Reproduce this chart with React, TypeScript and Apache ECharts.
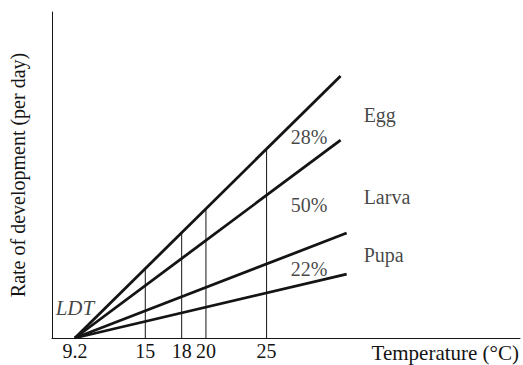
import React, { useEffect, useRef } from "react";
import * as echarts from "echarts";

// Temperatures (°C) shown on the x axis
const tickTemps = [9.2, 15, 18, 20, 25];
const ldt = 9.2;
// End points of the four development-rate lines (temperature, rate)
const eggEndTemp = 31.1;
const pupaEndTemp = 31.6;
const lineNames = ["Total", "Larva start", "Pupa start", "Pupa lower"];
const lineEndTemps = [eggEndTemp, eggEndTemp, pupaEndTemp, pupaEndTemp];
const lineEndRates = [0.804, 0.607, 0.322, 0.196];
// Temperatures with vertical guide lines
const guideTemps = [15, 18, 20, 25];
// Annotations (text, temperature, rate)
const stageNames = ["Egg", "Larva", "Pupa"];
const stageTemps = [33.0, 33.0, 33.0];
const stageRates = [0.684, 0.433, 0.255];
const shareLabels = ["28%", "50%", "22%"];
const shareTemps = [28.5, 28.5, 28.5];
const shareRates = [0.618, 0.408, 0.212];

const INK = "#141414";
const FONT = "Liberation Serif";

export default function App() {
  const ref = useRef<HTMLDivElement>(null);
  useEffect(() => {
    if (!ref.current) return;
    const chart = echarts.init(ref.current, undefined, { renderer: "svg" });
    const topRate = (t: number) => (lineEndRates[0] * (t - ldt)) / (lineEndTemps[0] - ldt);
    const series: any[] = [];
    lineNames.forEach((n, i) => {
      series.push({
        name: n,
        type: "line",
        data: [
          [ldt, 0],
          [lineEndTemps[i], lineEndRates[i]],
        ],
        symbol: "none",
        lineStyle: { color: INK, width: 2.8 },
        z: 3,
      });
    });
    guideTemps.forEach((t) => {
      series.push({
        type: "line",
        data: [
          [t, 0],
          [t, topRate(t)],
        ],
        symbol: "none",
        lineStyle: { color: INK, width: 1 },
        z: 2,
      });
    });
    series.push({
      type: "scatter",
      symbolSize: 0,
      data: stageNames.map((s, i) => ({ value: [stageTemps[i], stageRates[i]], name: s })),
      label: {
        show: true,
        position: "inside",
        align: "left",
        formatter: (p: any) => p.name,
        color: INK,
        fontFamily: FONT,
        fontSize: 20,
      },
    });
    series.push({
      type: "scatter",
      symbolSize: 0,
      data: shareLabels.map((s, i) => ({ value: [shareTemps[i], shareRates[i]], name: s })),
      label: {
        show: true,
        position: "inside",
        formatter: (p: any) => p.name,
        color: INK,
        fontFamily: FONT,
        fontSize: 20,
      },
    });
    series.push({
      type: "scatter",
      symbolSize: 0,
      data: [{ value: [9.2, 0.092], name: "LDT" }],
      label: {
        show: true,
        position: "inside",
        formatter: "LDT",
        color: INK,
        fontFamily: FONT,
        fontStyle: "italic",
        fontSize: 21,
      },
    });
    chart.setOption({
      animation: false,
      grid: { left: 47, right: 3, top: 12, bottom: 27 },
      xAxis: {
        type: "value",
        min: 7.31,
        max: 45.89,
        name: "Temperature (°C)",
        nameLocation: "end",
        nameGap: -1,
        nameTextStyle: {
          color: INK,
          fontFamily: FONT,
          fontSize: 21,
          align: "right",
          verticalAlign: "top",
          padding: [4, 0, 0, 0],
        },
        axisLine: { lineStyle: { color: INK, width: 1 } },
        axisTick: { show: false },
        splitLine: { show: false },
        axisLabel: {
          customValues: tickTemps,
          formatter: (v: number) => String(v),
          color: INK,
          fontFamily: FONT,
          fontSize: 20,
          margin: 3,
        },
      },
      yAxis: {
        type: "value",
        min: 0,
        max: 1,
        name: "Rate of development (per day)",
        nameLocation: "middle",
        nameGap: 24,
        nameTextStyle: { color: INK, fontFamily: FONT, fontSize: 20 },
        axisLine: { show: true, lineStyle: { color: INK, width: 1 } },
        axisTick: { show: false },
        axisLabel: { show: false },
        splitLine: { show: false },
      },
      series,
    });
    return () => chart.dispose();
  }, []);
  return (
    <div
      ref={ref}
      style={{ position: "fixed", left: 0, top: 0, width: 523, height: 365, background: "#fff" }}
    />
  );
}
